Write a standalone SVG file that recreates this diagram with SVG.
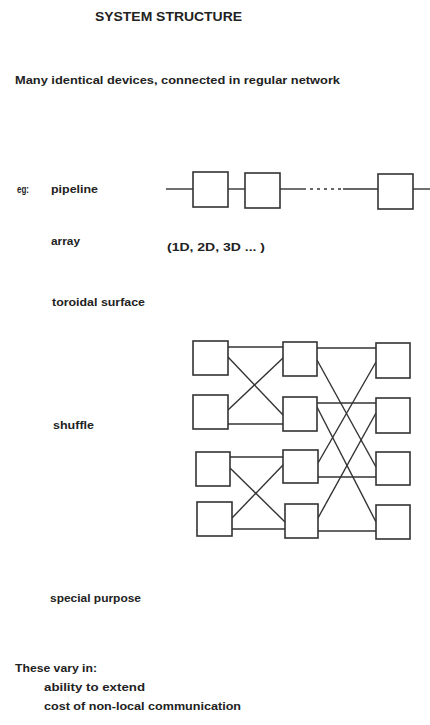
<svg xmlns="http://www.w3.org/2000/svg" width="430" height="725" viewBox="0 0 430 725">
<style>
text{font-family:"Liberation Sans",Arial,sans-serif;font-weight:bold;fill:#222;}
.t{font-size:11px;}
.h{font-size:12px;}
.box{fill:#fff;stroke:#333;stroke-width:1.6;}
.ln{stroke:#333;stroke-width:1.4;fill:none;}
.dash{stroke:#333;stroke-width:1.4;stroke-dasharray:3 4;fill:none;}
</style>
<rect width="430" height="725" fill="#fff"/>
<g id="texts">
<text class="h" x="95" y="21" textLength="147" lengthAdjust="spacingAndGlyphs">SYSTEM  STRUCTURE</text>
<text class="t" x="15" y="84" textLength="325" lengthAdjust="spacingAndGlyphs">Many identical devices, connected in regular network</text>
<text class="t" x="17" y="193" textLength="12" lengthAdjust="spacingAndGlyphs">eg:</text>
<text class="t" x="51" y="193" textLength="47" lengthAdjust="spacingAndGlyphs">pipeline</text>
<text class="t" x="51" y="245" textLength="29" lengthAdjust="spacingAndGlyphs">array</text>
<text class="t" x="167" y="251" textLength="98" lengthAdjust="spacingAndGlyphs">(1D, 2D, 3D ... )</text>
<text class="t" x="52" y="306" textLength="93" lengthAdjust="spacingAndGlyphs">toroidal surface</text>
<text class="t" x="53" y="429" textLength="41" lengthAdjust="spacingAndGlyphs">shuffle</text>
<text class="t" x="50" y="602" textLength="91" lengthAdjust="spacingAndGlyphs">special purpose</text>
<text class="t" x="15" y="672" textLength="82" lengthAdjust="spacingAndGlyphs">These vary in:</text>
<text class="t" x="44" y="691" textLength="101" lengthAdjust="spacingAndGlyphs">ability to extend</text>
<text class="t" x="44" y="710" textLength="197" lengthAdjust="spacingAndGlyphs">cost of non-local communication</text>
</g>
<g id="connectors">
<line class="ln" x1="166" y1="189" x2="193" y2="189"/>
<line class="ln" x1="228" y1="189" x2="245" y2="189"/>
<line class="ln" x1="280" y1="189" x2="306" y2="189"/>
<line class="dash" x1="310" y1="189" x2="342" y2="189"/>
<line class="ln" x1="343" y1="189" x2="378" y2="189"/>
<line class="ln" x1="413" y1="189" x2="430" y2="189"/>
<line class="ln" x1="228" y1="347" x2="283" y2="347"/>
<line class="ln" x1="228" y1="357" x2="283" y2="415"/>
<line class="ln" x1="228" y1="410" x2="283" y2="358"/>
<line class="ln" x1="228" y1="424" x2="283" y2="424"/>
<line class="ln" x1="230" y1="457" x2="283" y2="457"/>
<line class="ln" x1="230" y1="468" x2="285" y2="522"/>
<line class="ln" x1="232" y1="518" x2="283" y2="465"/>
<line class="ln" x1="232" y1="529" x2="285" y2="529"/>
<line class="ln" x1="317" y1="348" x2="376" y2="348"/>
<line class="ln" x1="317" y1="360" x2="376" y2="467"/>
<line class="ln" x1="317" y1="403" x2="376" y2="403"/>
<line class="ln" x1="317" y1="407" x2="376" y2="522"/>
<line class="ln" x1="318" y1="463" x2="376" y2="362"/>
<line class="ln" x1="318" y1="477" x2="376" y2="477"/>
<line class="ln" x1="318" y1="518" x2="376" y2="413"/>
<line class="ln" x1="318" y1="531" x2="376" y2="531"/>
</g>
<g id="p1"><rect class="box" x="193" y="172" width="35" height="35"/></g>
<g id="p2"><rect class="box" x="245" y="173" width="35" height="35"/></g>
<g id="p3"><rect class="box" x="378" y="174" width="35" height="35"/></g>
<g id="a1"><rect class="box" x="193" y="341" width="35" height="34"/></g>
<g id="a2"><rect class="box" x="193" y="395" width="35" height="34"/></g>
<g id="a3"><rect class="box" x="196" y="452" width="34" height="34"/></g>
<g id="a4"><rect class="box" x="197" y="502" width="35" height="34"/></g>
<g id="b1"><rect class="box" x="283" y="342" width="34" height="34"/></g>
<g id="b2"><rect class="box" x="283" y="397" width="34" height="34"/></g>
<g id="b3"><rect class="box" x="283" y="450" width="35" height="33"/></g>
<g id="b4"><rect class="box" x="285" y="504" width="33" height="34"/></g>
<g id="c1"><rect class="box" x="376" y="343" width="34" height="35"/></g>
<g id="c2"><rect class="box" x="376" y="398" width="34" height="35"/></g>
<g id="c3"><rect class="box" x="376" y="452" width="34" height="33"/></g>
<g id="c4"><rect class="box" x="376" y="505" width="34" height="34"/></g>
</svg>
